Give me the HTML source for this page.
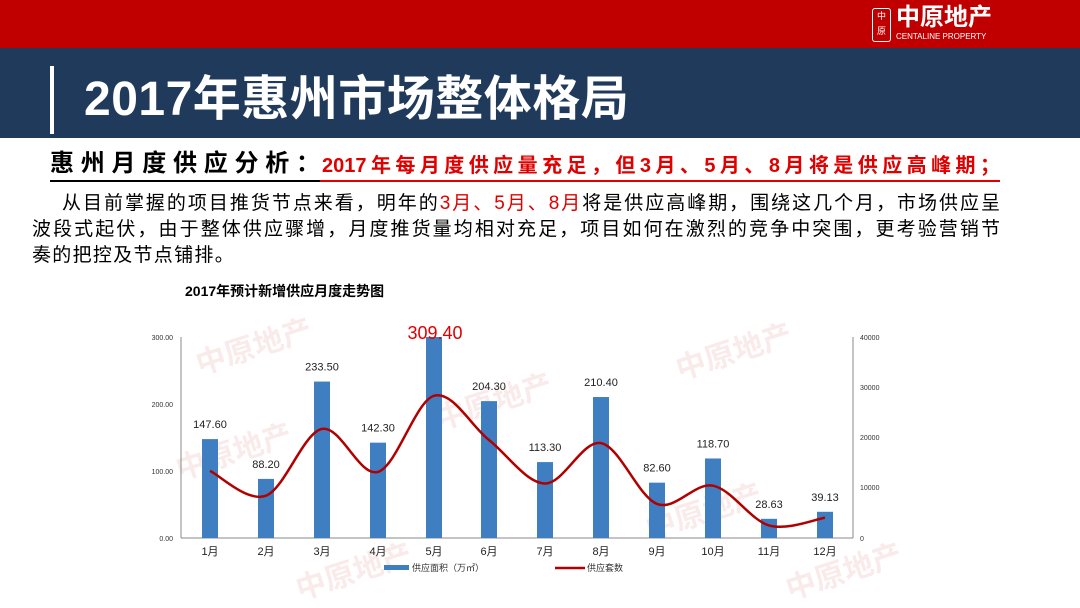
<!DOCTYPE html>
<html><head><meta charset="utf-8"><style>
body{margin:0;width:1080px;height:608px;overflow:hidden;background:#fff;font-family:"Liberation Sans","Noto Sans CJK SC",sans-serif;position:relative}
.abs{position:absolute;white-space:nowrap}
.j{position:absolute;white-space:nowrap;text-align:justify;text-align-last:justify;font-size:19px;line-height:26px}
</style></head><body>
<div class="abs" style="left:0;top:0;width:1080px;height:48px;background:#c00000"></div>
<div class="abs" style="left:872px;top:8px;width:17px;height:32px;border:1.5px solid #fff;border-radius:3px;color:#fff;font-size:9px;line-height:15px;text-align:center">中<br>原</div>
<div class="abs" style="left:896px;top:4px;color:#fff;font-weight:bold;font-size:24px;line-height:28px">中原地产</div>
<div class="abs" style="left:896px;top:32px;color:#fff;font-size:8px">CENTALINE PROPERTY</div>
<div class="abs" style="left:0;top:48px;width:1080px;height:90px;background:#203a5c"></div>
<div class="abs" style="left:50px;top:66px;width:4px;height:68px;background:#fff"></div>
<div class="abs" style="left:84px;top:70px;color:#fff;font-weight:bold;font-size:48px;line-height:60px;letter-spacing:0.5px">2017年惠州市场整体格局</div>
<div class="abs" style="left:50px;top:150px;height:30px;border-bottom:2px solid #000;width:270px"></div>
<div class="abs" style="left:320px;top:150px;height:30px;border-bottom:2px solid #e00000;width:680px"></div>
<div class="abs" style="left:50px;top:148px;width:270px;font-weight:bold;font-size:24px;line-height:32px;text-align:justify;text-align-last:justify">惠州月度供应分析：</div>
<div class="abs" style="left:322px;top:152px;width:678px;font-weight:bold;font-size:20px;line-height:28px;color:#e00000;text-align:justify;text-align-last:justify">2017年每月度供应量充足，但3月、5月、8月将是供应高峰期；</div>
<div class="j" style="left:62px;top:191px;width:938px">从目前掌握的项目推货节点来看，明年的<span style="color:#e00000">3月、5月、8月</span>将是供应高峰期，围绕这几个月，市场供应呈</div>
<div class="j" style="left:32px;top:217px;width:968px">波段式起伏，由于整体供应骤增，月度推货量均相对充足，项目如何在激烈的竞争中突围，更考验营销节</div>
<div class="abs" style="left:32px;top:243px;font-size:19px;line-height:26px;letter-spacing:1.3px">奏的把控及节点铺排。</div>
<div class="abs" style="left:185px;top:281px;font-weight:bold;font-size:14px">2017年预计新增供应月度走势图</div>
<svg class="abs" style="left:0;top:0" width="1080" height="608" id="s">
<g font-family="Liberation Sans,Noto Sans CJK SC,sans-serif">
<g fill="#f3c8c8" font-weight="bold" font-size="30" opacity="0.35">
<text x="200" y="375" transform="rotate(-18 200 375)">中原地产</text>
<text x="680" y="380" transform="rotate(-18 680 380)">中原地产</text>
<text x="440" y="430" transform="rotate(-18 440 430)">中原地产</text>
<text x="180" y="480" transform="rotate(-18 180 480)">中原地产</text>
<text x="650" y="540" transform="rotate(-18 650 540)">中原地产</text>
<text x="300" y="600" transform="rotate(-18 300 600)">中原地产</text>
<text x="790" y="600" transform="rotate(-18 790 600)">中原地产</text>
</g>
<line x1="181" y1="337" x2="181" y2="538" stroke="#888"/>
<line x1="853" y1="337" x2="853" y2="538" stroke="#888"/>
<line x1="181" y1="538" x2="853" y2="538" stroke="#888"/>
<g font-size="7" fill="#333" text-anchor="end">
<text x="173" y="340">300.00</text><text x="173" y="407">200.00</text><text x="173" y="474">100.00</text><text x="173" y="541">0.00</text></g>
<g font-size="7" fill="#333">
<text x="860" y="340">40000</text><text x="860" y="390">30000</text><text x="860" y="440">20000</text><text x="860" y="490">10000</text><text x="860" y="541">0</text></g>
<g id="bars" fill="#3f7fc1"></g>
<g id="lbl" font-size="11" fill="#222" text-anchor="middle"></g>
<g id="xl" font-size="11" fill="#222" text-anchor="middle"></g>
<path id="ln" fill="none" stroke="#b00000" stroke-width="2.5"/>
<text x="435" y="339" font-size="18" fill="#e00000" text-anchor="middle">309.40</text>
<rect x="384" y="565" width="25" height="5" fill="#3f7fc1"/>
<text x="412" y="571" font-size="9" fill="#333">供应面积（万㎡）</text>
<line x1="555" y1="568" x2="585" y2="568" stroke="#b00000" stroke-width="2.5"/>
<text x="587" y="571" font-size="9" fill="#333">供应套数</text>
</g></svg>
<script>
(function(){
var xs=[210,266,322,378,434,489,545,601,657,713,769,825];
var v=[147.6,88.2,233.5,142.3,309.4,204.3,113.3,210.4,82.6,118.7,28.63,39.13];
var ly=[470.9,495.7,428.9,471.9,395.8,440,483.5,443.1,503.9,485.7,525.4,517.8];
var b='',l='',x='';
for(var i=0;i<12;i++){var ty=Math.max(337,538-v[i]*0.67);
b+='<rect x="'+(xs[i]-8)+'" y="'+ty+'" width="16" height="'+(538-ty)+'"/>';
if(i!=4)l+='<text x="'+xs[i]+'" y="'+(538-v[i]*0.67-11)+'">'+v[i].toFixed(2)+'</text>';
x+='<text x="'+xs[i]+'" y="555">'+(i+1)+'月</text>';}
document.getElementById('bars').innerHTML=b;document.getElementById('lbl').innerHTML=l;document.getElementById('xl').innerHTML=x;
var p='M'+xs[0]+','+ly[0];
for(var i=0;i<11;i++){var i0=Math.max(0,i-1),i3=Math.min(11,i+2);
var c1x=xs[i]+(xs[i+1]-xs[i0])/6,c1y=ly[i]+(ly[i+1]-ly[i0])/6,c2x=xs[i+1]-(xs[i3]-xs[i])/6,c2y=ly[i+1]-(ly[i3]-ly[i])/6;
p+=' C'+c1x+','+c1y+' '+c2x+','+c2y+' '+xs[i+1]+','+ly[i+1];}
document.getElementById('ln').setAttribute('d',p);
})();
</script>
</body></html>
